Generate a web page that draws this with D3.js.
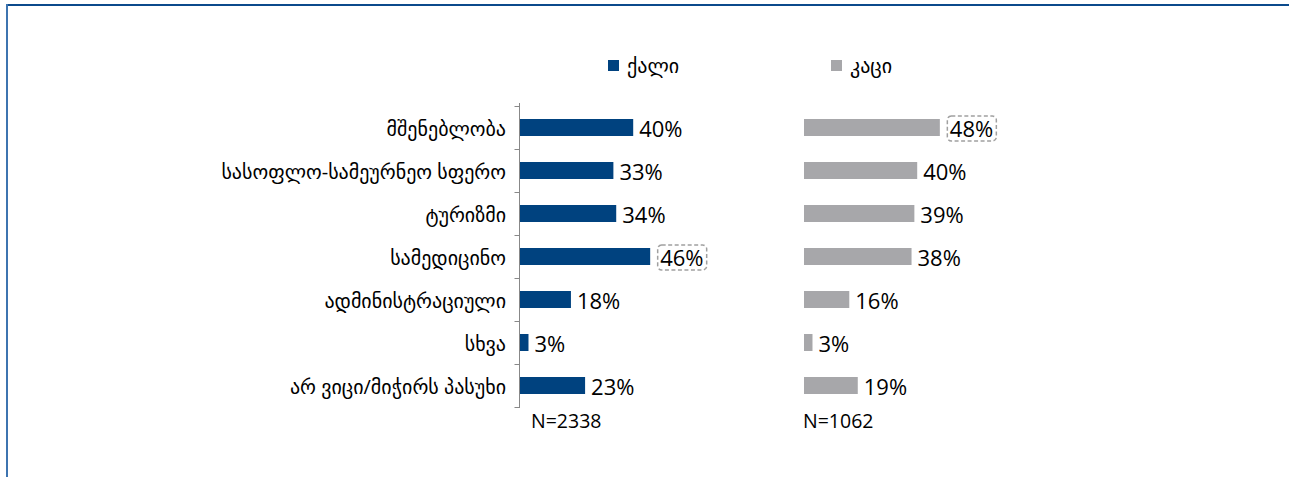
<!DOCTYPE html>
<html lang="ka">
<head>
<meta charset="utf-8">
<title>chart</title>
<script src="https://d3js.org/d3.v7.min.js"></script>
<style>
  body { margin: 0; background: #fff; }
  text { font-family: "Open Sans", "DejaVu Sans", sans-serif; fill: #000; }
</style>
</head>
<body>
<script>
// data
var categories = ["მშენებლობა", "სასოფლო-სამეურნეო სფერო", "ტურიზმი", "სამედიცინო",
                  "ადმინისტრაციული", "სხვა", "არ ვიცი/მიჭირს პასუხი"];
var women = [40, 33, 34, 46, 18, 3, 23];
var men = [48, 40, 39, 38, 16, 3, 19];
var seriesNames = ["ქალი", "კაცი"];
var sampleSizes = ["N=2338", "N=1062"];
var highlight = [3, 0]; // index of boxed label in each panel

var width = 1289, height = 477;
var colors = ["#00427f", "#a7a7aa"];

var svg = d3.select("body").append("svg")
    .attr("width", width)
    .attr("height", height);

// frame
svg.append("line").attr("x1", 6).attr("x2", width).attr("y1", 5).attr("y2", 5)
    .attr("stroke", "#0b4a8c").attr("stroke-width", 2);
svg.append("line").attr("x1", 7).attr("x2", 7).attr("y1", 4).attr("y2", height)
    .attr("stroke", "#3d74b0").attr("stroke-width", 2);

var y = d3.scaleBand().domain(categories).range([106, 407]);
var x = d3.scaleLinear().domain([0, 100]).range([0, 283]);

var panelX = [520, 804];

// axis on left panel
var axisG = svg.append("g").attr("transform", "translate(519.5,0)");
axisG.append("line").attr("x1", 0).attr("x2", 0).attr("y1", 103).attr("y2", 408)
    .attr("stroke", "#888").attr("stroke-width", 1);
axisG.selectAll(".tick").data(d3.range(categories.length + 1)).enter().append("line")
    .attr("x1", -5).attr("x2", 0)
    .attr("y1", function(i) { return Math.round(106 + i * y.bandwidth()) + 0.5; })
    .attr("y2", function(i) { return Math.round(106 + i * y.bandwidth()) + 0.5; })
    .attr("stroke", "#888");

svg.selectAll(".cat").data(categories).enter().append("text")
    .attr("x", 506)
    .attr("y", function(d) { return y(d) + y.bandwidth() / 2 + 1; })
    .attr("dy", "0.35em")
    .attr("text-anchor", "end")
    .style("font-size", "20px")
    .text(function(d) { return d; });

[women, men].forEach(function(vals, s) {
    var g = svg.append("g").attr("transform", "translate(" + panelX[s] + ",0)");
    var bh = 17;
    g.selectAll("rect").data(vals).enter().append("rect")
        .attr("x", 0)
        .attr("y", function(d, i) { return y(categories[i]) + y.bandwidth() / 2 - bh / 2; })
        .attr("width", function(d) { return x(d); })
        .attr("height", bh)
        .attr("fill", colors[s]);

    var hi = highlight[s];
    g.selectAll(".val").data(vals).enter().append("text")
        .attr("class", "val")
        .attr("x", function(d, i) { return x(d) + (i === hi ? 10 : 6); })
        .attr("y", function(d, i) { return y(categories[i]) + y.bandwidth() / 2 + 1.5; })
        .attr("dy", "0.36em")
        .style("font-size", "22px")
        .text(function(d) { return d + "%"; });

    var cy = y(categories[hi]) + y.bandwidth() / 2 + 1;
    g.append("rect")
        .attr("x", x(vals[hi]) + 7.5)
        .attr("y", cy - 12.5)
        .attr("width", 49)
        .attr("height", 25)
        .attr("rx", 4)
        .attr("fill", "none")
        .attr("stroke", "#a0a0a0")
        .attr("stroke-width", 1.5)
        .attr("stroke-dasharray", "4,2.5");

    g.append("text")
        .attr("x", s === 0 ? 11 : -1)
        .attr("y", 421)
        .attr("dy", "0.35em")
        .style("font-size", "19.5px")
        .text(sampleSizes[s]);
});

// legend
var legendX = [608, 831];
seriesNames.forEach(function(name, s) {
    svg.append("rect")
        .attr("x", legendX[s]).attr("y", 60)
        .attr("width", 11).attr("height", 11)
        .attr("fill", colors[s]);
    svg.append("text")
        .attr("x", legendX[s] + 19).attr("y", 66)
        .attr("dy", "0.35em")
        .style("font-size", "20px")
        .text(name);
});
</script>
</body>
</html>
